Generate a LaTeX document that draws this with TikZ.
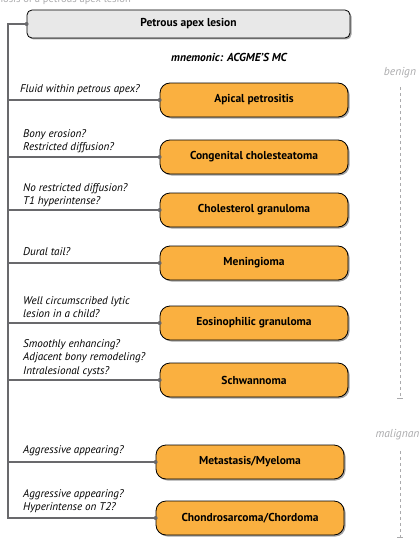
\documentclass[tikz,border=0pt]{standalone}
\usepackage{fontspec}
\setmainfont{PT Sans}
\usetikzlibrary{shadows}
\definecolor{boxorange}{RGB}{250,176,64}
\definecolor{boxgray}{RGB}{232,232,232}
\definecolor{linegray}{RGB}{105,105,108}
\definecolor{sidegray}{RGB}{170,170,172}
\tikzset{
  every node/.append style={font=\fontsize{10.5}{13.5}\selectfont},
  dx/.style={draw=black, line width=0.8pt, rounded corners=10pt, fill=boxorange,
    minimum width=188pt, minimum height=34pt, font=\fontsize{11.5}{13}\selectfont\bfseries,
    drop shadow={shadow xshift=1.5pt, shadow yshift=-1.5pt, opacity=0.6, fill=black!60}},
  question/.style={anchor=north west, inner sep=0pt, align=left, font=\fontsize{11.1}{13.6}\selectfont\itshape},
  branch/.style={draw=linegray, line width=1.6pt},
  side/.style={font=\fontsize{11.5}{13}\selectfont\itshape, text=sidegray},
  sidedash/.style={draw=sidegray, dash pattern=on 3pt off 3pt, line width=0.6pt}
}
\begin{document}
\begin{tikzpicture}[x=1pt,y=-1pt]
  \useasboundingbox (0,0) rectangle (418,551);
  \node[text=sidegray, anchor=base east, inner sep=0pt] (title) at (131,3) {Diagnosis of a petrous apex lesion};

  \node[dx, fill=boxgray, rounded corners=5pt, minimum width=323pt, minimum height=28pt] (pal) at (188.5,24) {Petrous apex lesion};
  \node[font=\fontsize{11.5}{13}\selectfont\bfseries\itshape] (mn) at (229,57) {mnemonic: ACGME'S MC};

  \node[dx] (ap) at (254,100) {Apical petrositis};
  \node[dx] (ch) at (254,157) {Congenital cholesteatoma};
  \node[dx] (cg) at (254,210) {Cholesterol granuloma};
  \node[dx] (men) at (254,263) {Meningioma};
  \node[dx] (eg) at (254,323) {Eosinophilic granuloma};
  \node[dx] (sch) at (254,380) {Schwannoma};
  \node[dx] (mm) at (250,462) {Metastasis/Myeloma};
  \node[dx] (cc) at (250,518) {Chondrosarcoma/Chordoma};

  \node[question] (q1) at (20,84) {Fluid within petrous apex?};
  \node[question] (q2) at (23,129) {Bony erosion?\\Restricted diffusion?};
  \node[question] (q3) at (23,183) {No restricted diffusion?\\T1 hyperintense?};
  \node[question] (q4) at (23,247) {Dural tail?};
  \node[question] (q5) at (23,296) {Well circumscribed lytic\\lesion in a child?};
  \node[question] (q6) at (23,339) {Smoothly enhancing?\\Adjacent bony remodeling?\\Intralesional cysts?};
  \node[question] (q7) at (23,445) {Aggressive appearing?};
  \node[question] (q8) at (23,489) {Aggressive appearing?\\Hyperintense on T2?};

  % tree
  \coordinate (top) at (8,24);
  \draw[branch] (pal.west) -- (top) |- (cc.west);
  \foreach \n in {ap,ch,cg,men,eg,sch,mm} {
    \draw[branch] (top |- \n.west) -- (\n.west);
    \fill[linegray] (\n.west) circle (2pt);
  }
  \fill[linegray] (pal.west) circle (2pt);
  \fill[linegray] (cc.west) circle (2pt);

  % benign / malignant
  \node[side] (benign) at (400,73) {benign};
  \coordinate (benignend) at (400,398);
  \draw[sidedash] ([yshift=-5pt]benign.south) -- (benignend);
  \draw[sidedash, solid] ([xshift=-3pt]benignend) -- ([xshift=3pt]benignend);
  \node[side, anchor=west] (malig) at (372,435) {malignant};
  \coordinate (maligend) at (400,537);
  \draw[sidedash] ([yshift=-7pt]maligend |- malig.south) -- (maligend);
  \draw[sidedash, solid] ([xshift=-3pt]maligend) -- ([xshift=3pt]maligend);
\end{tikzpicture}
\end{document}
